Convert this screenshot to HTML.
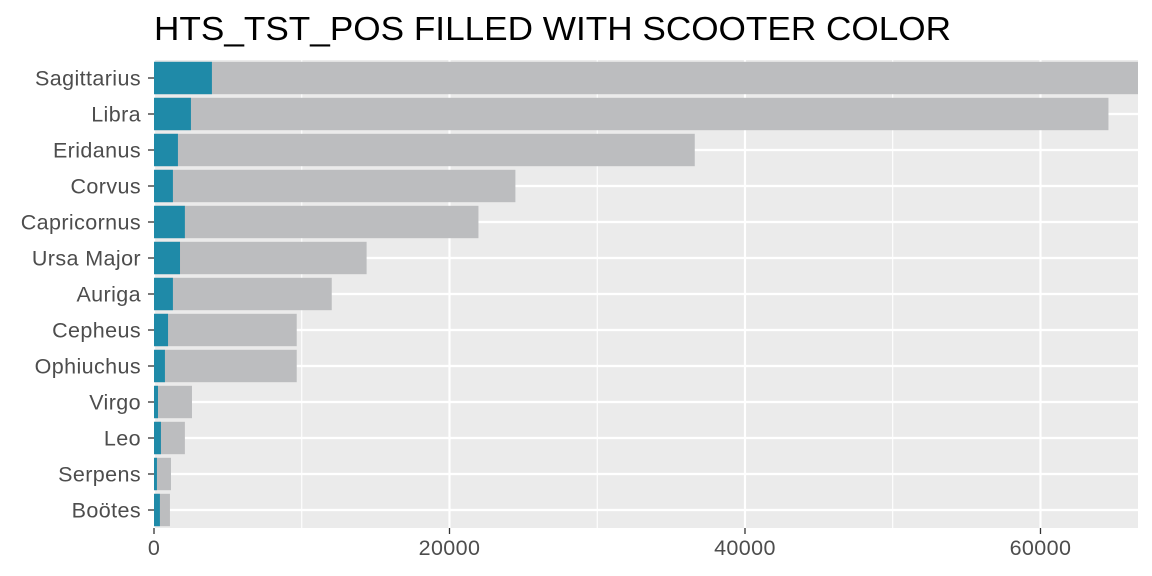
<!DOCTYPE html>
<html><head><meta charset="utf-8"><style>
body{margin:0;background:#fff;}
svg{display:block;font-family:"Liberation Sans",sans-serif;}
</style></head><body>
<svg id="chart" width="1152" height="576">
<text x="154" y="40" font-size="33" textLength="797" lengthAdjust="spacingAndGlyphs" fill="#000">HTS_TST_POS FILLED WITH SCOOTER COLOR</text>
<rect x="154" y="60" width="984" height="468" fill="#EBEBEB"/>
<g id="grid"></g><g id="bars"></g><g id="axes"></g>
</svg>
<script>
const categories=["Sagittarius","Libra","Eridanus","Corvus","Capricornus","Ursa Major","Auriga","Cepheus","Ophiuchus","Virgo","Leo","Serpens","Boötes"];
const totalValues=[68000,64600,36600,24460,21960,14390,12030,9660,9660,2570,2090,1150,1080];
const positiveValues=[3920,2500,1620,1280,2090,1760,1280,950,740,270,470,200,400];
const xTicks=[0,20000,40000,60000];
const xTickLabels=["0","20000","40000","60000"];
const xMinor=[10000,30000,50000];
const L=154,R=1138,T=60,B=528,XMAX=66600;
const NS="http://www.w3.org/2000/svg";
const x=v=>L+Math.min(v,XMAX)/XMAX*(R-L);
const step=(B-T)/categories.length;
const y=i=>T+step*(i+0.5);
function mk(tag,attrs,parent){const e=document.createElementNS(NS,tag);for(const k in attrs)e.setAttribute(k,attrs[k]);document.getElementById(parent).appendChild(e);return e;}
xMinor.forEach(v=>{const e=mk('line',{x1:x(v),x2:x(v),y1:T,y2:B,stroke:'#fff','stroke-width':1.1},'grid');

});
xTicks.forEach((v,i)=>{const e=mk('line',{x1:x(v),x2:x(v),y1:T,y2:B,stroke:'#fff','stroke-width':2.2},'grid');


const t=mk('line',{x1:x(v),x2:x(v),y1:B,y2:B+6,stroke:'#333','stroke-width':1.3},'axes');


const l=mk('text',{x:x(v),y:B+27,'font-size':21.5,'letter-spacing':0.4,fill:'#4D4D4D','text-anchor':'middle'},'axes');l.textContent=xTickLabels[i];

});
categories.forEach((c,i)=>{const g=mk('line',{x1:L,x2:R,y1:y(i),y2:y(i),stroke:'#fff','stroke-width':2.2},'grid');


const h=step*0.9;
const b=mk('rect',{x:L,y:y(i)-h/2,width:x(totalValues[i])-L,height:h,fill:'#BCBDBF'},'bars');


const p=mk('rect',{x:L,y:y(i)-h/2,width:x(positiveValues[i])-L,height:h,fill:'#1F8AA8'},'bars');


const t=mk('line',{x1:L-6,x2:L,y1:y(i),y2:y(i),stroke:'#333','stroke-width':1.3},'axes');


const l=mk('text',{x:L-13,y:y(i)+7.5,'font-size':21.5,'letter-spacing':0.4,fill:'#4D4D4D','text-anchor':'end'},'axes');l.textContent=c;

});
</script>
</body></html>
